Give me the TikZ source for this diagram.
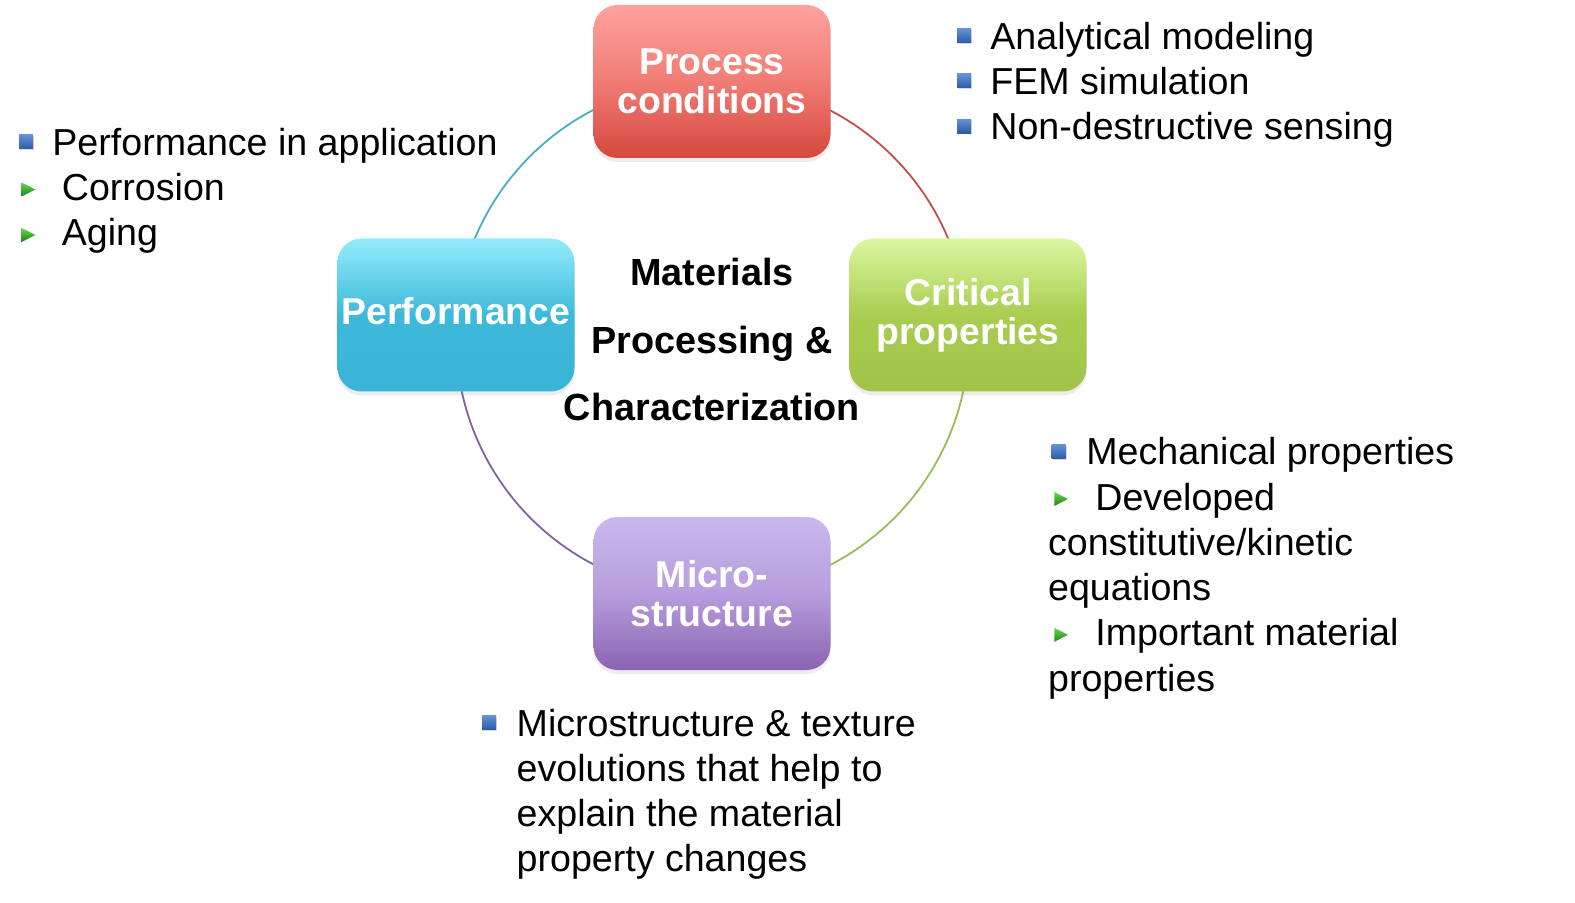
\documentclass[tikz,border=0pt]{standalone}
\usepackage{fontspec}
\setmainfont{Liberation Sans}
\usetikzlibrary{shadows,shapes.geometric,backgrounds}

\definecolor{procTop}{RGB}{255,162,158}
\definecolor{procMid}{RGB}{240,124,117}
\definecolor{procBot}{RGB}{214,72,61}
\definecolor{perfTop}{RGB}{148,236,253}
\definecolor{perfMid}{RGB}{62,185,218}
\definecolor{perfBot}{RGB}{57,180,214}
\definecolor{critTop}{RGB}{220,248,160}
\definecolor{critMid}{RGB}{168,205,80}
\definecolor{critBot}{RGB}{160,196,74}
\definecolor{micTop}{RGB}{202,184,236}
\definecolor{micMid}{RGB}{182,158,220}
\definecolor{micBot}{RGB}{138,99,178}
\definecolor{ringRed}{RGB}{192,80,77}
\definecolor{ringGreen}{RGB}{155,187,89}
\definecolor{ringPurple}{RGB}{128,100,162}
\definecolor{ringBlue}{RGB}{75,172,198}
\definecolor{sqTop}{RGB}{100,146,214}
\definecolor{sqBot}{RGB}{44,92,168}
\definecolor{trTop}{RGB}{110,215,80}
\definecolor{trBot}{RGB}{25,130,25}

\tikzset{
  stagebox/.style={rounded corners=12pt, minimum width=118.5pt, minimum height=76.5pt,
    inner xsep=1pt, align=center, text=white, font=\bfseries\fontsize{18.7}{19.5}\selectfont,
    drop shadow={shadow xshift=0pt, shadow yshift=-2pt, opacity=0.15}},
  ringarc/.style={line width=0.9pt},
  itemtext/.style={anchor=base west, inner sep=0pt, font=\fontsize{18.8}{22.5}\selectfont},
  sqbullet/.style={inner sep=0pt, minimum size=7pt, top color=sqTop, bottom color=sqBot,
    drop shadow={shadow xshift=0.5pt, shadow yshift=-0.7pt, opacity=0.3}},
  trbullet/.style={isosceles triangle, isosceles triangle stretches, inner sep=0pt,
    minimum width=7pt, minimum height=6.8pt, top color=trTop, bottom color=trBot},
}

\begin{document}
\begin{tikzpicture}[x=0.5pt, y=0.5pt] %% one unit = one pixel of the slide
  \useasboundingbox (0,0) rectangle (1575,-903);

  % the four stages
  \node[stagebox, top color=procTop, bottom color=procBot, middle color=procMid] (proc) at (712,-81.5) {Process\\conditions};
  \node[stagebox, top color=perfTop, bottom color=perfBot, middle color=perfMid, text depth=4pt] (perf) at (456,-315) {Performance};
  \node[stagebox, top color=critTop, bottom color=critBot, middle color=critMid] (crit) at (968,-315) {Critical\\properties};
  \node[stagebox, top color=micTop, bottom color=micBot, middle color=micMid] (micro) at (712,-593.5) {Micro-\\structure};

  \node[font=\bfseries\fontsize{18.9}{33.7}\selectfont, align=center] (hub) at (712,-339.5) {Materials\\Processing \&\\Characterization};

  % ring behind the boxes
  \begin{pgfonlayer}{background}
    \draw[ringarc, ringRed] (proc.center) arc[start angle=90, end angle=5, radius=128pt];
    \draw[ringarc, ringGreen] (crit.center) arc[start angle=5, end angle=-90, radius=128pt];
    \draw[ringarc, ringPurple] (micro.center) arc[start angle=270, end angle=175, radius=128pt];
    \draw[ringarc, ringBlue] (perf.center) arc[start angle=175, end angle=90, radius=128pt];
  \end{pgfonlayer}

  % left list
  \node[itemtext] (la) at (52,-155.5) {Performance in application};
  \node[itemtext] (lb) at (61.5,-200.5) {Corrosion};
  \node[itemtext] (lc) at (61.5,-246) {Aging};
  \node[sqbullet] (la-b) at (26,-142) {};
  \node[trbullet] (lb-b) at (26,-189.5) {};
  \node[trbullet] (lc-b) at (26,-235) {};

  % top right list
  \foreach \i/\y/\txt in {1/49.2/Analytical modeling, 2/94.4/FEM simulation, 3/139.6/Non-destructive sensing} {
    \node[itemtext] (tr\i) at (990,-\y) {\txt};
    \node[sqbullet] (tr\i-b) at (964,{-\y+13.5}) {};
  }

  % lower right list
  \node[itemtext] (rl1) at (1086,-465) {Mechanical properties};
  \node[itemtext] (rl2) at (1095,-510) {Developed};
  \node[itemtext] (rl3) at (1047.7,-555.4) {constitutive/kinetic};
  \node[itemtext] (rl4) at (1047.7,-600.6) {equations};
  \node[itemtext] (rl5) at (1095,-645.8) {Important material};
  \node[itemtext] (rl6) at (1047.7,-691) {properties};
  \node[sqbullet] (rl1-b) at (1058.6,-451.5) {};
  \node[trbullet] (rl2-b) at (1058.6,-499) {};
  \node[trbullet] (rl5-b) at (1058.6,-634.8) {};

  % bottom list
  \node[itemtext] (bl1) at (516.3,-736) {Microstructure \& texture};
  \node[itemtext] (bl2) at (516.3,-781.4) {evolutions that help to};
  \node[itemtext] (bl3) at (516.3,-826.6) {explain the material};
  \node[itemtext] (bl4) at (516.3,-871.8) {property changes};
  \node[sqbullet] (bl1-b) at (489,-722.5) {};
\end{tikzpicture}
\end{document}
